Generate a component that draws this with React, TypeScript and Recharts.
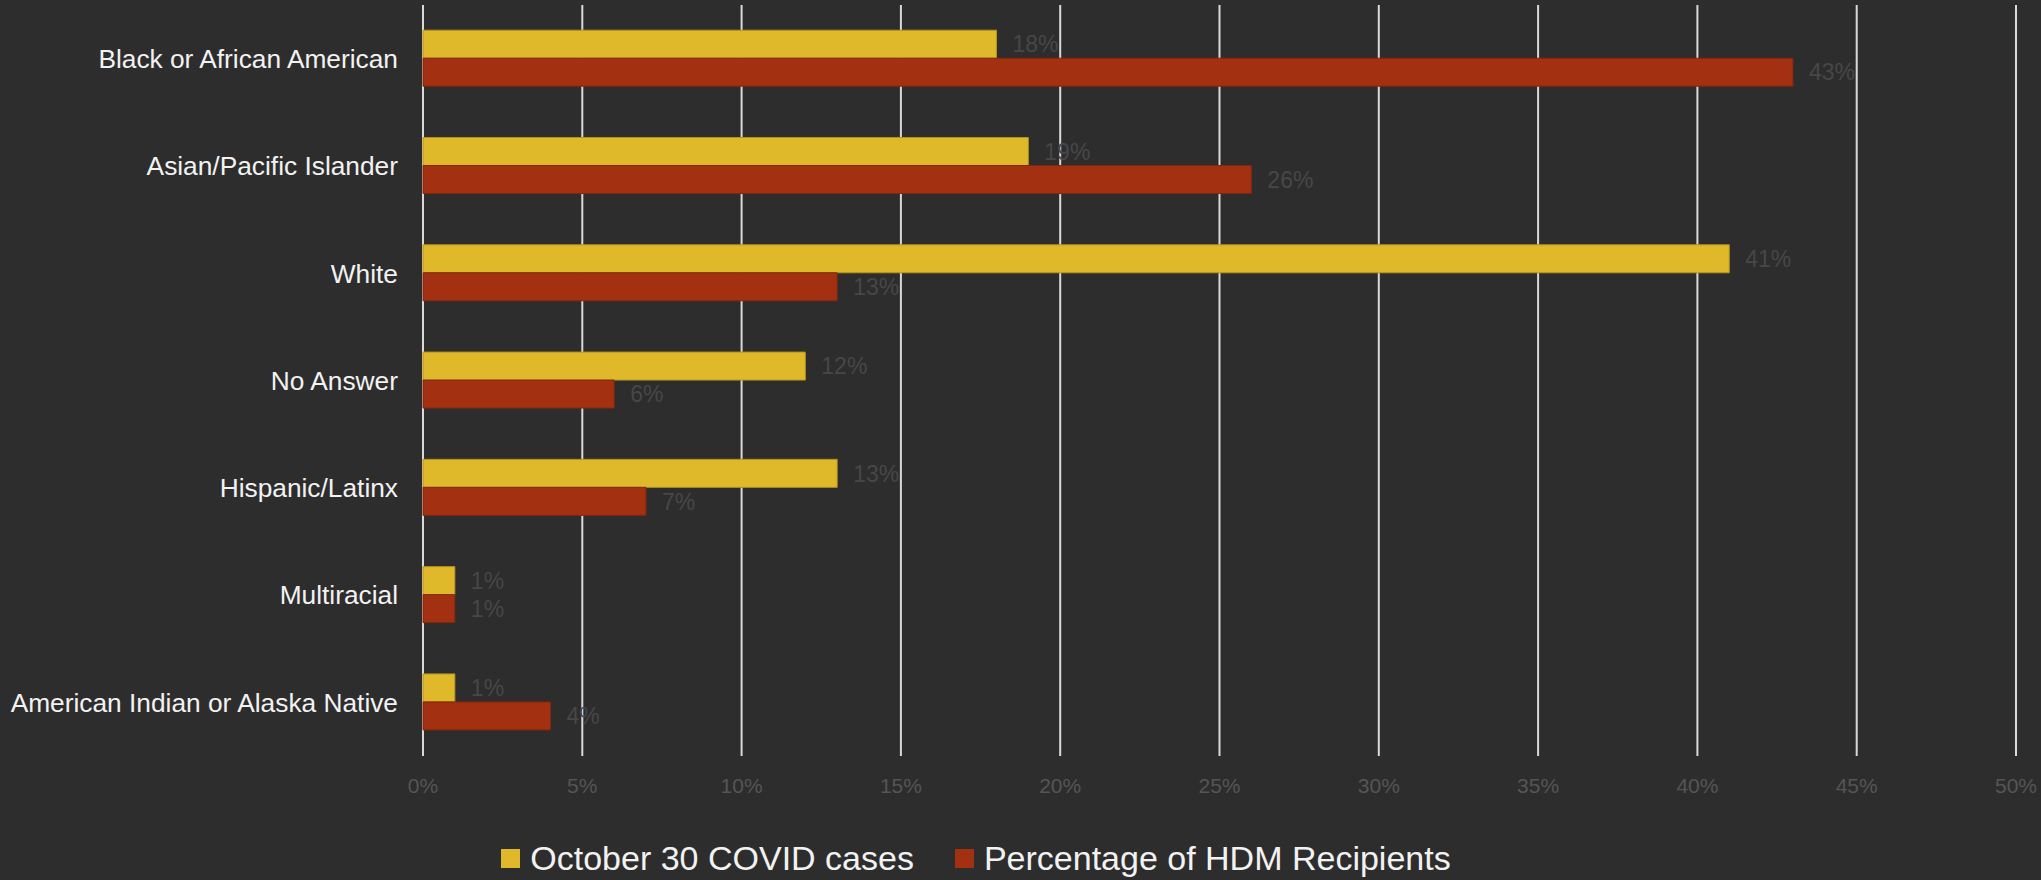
import { BarChart, Bar, XAxis, YAxis, CartesianGrid, Legend, LabelList } from 'recharts';

const categories = [
  'Black or African American',
  'Asian/Pacific Islander',
  'White',
  'No Answer',
  'Hispanic/Latinx',
  'Multiracial',
  'American Indian or Alaska Native',
];
const covidCases = [18, 19, 41, 12, 13, 1, 1];
const hdmRecipients = [43, 26, 13, 6, 7, 1, 4];
const xTicks = [0, 5, 10, 15, 20, 25, 30, 35, 40, 45, 50];

const seriesNames = ['October 30 COVID cases', 'Percentage of HDM Recipients'];
const YELLOW = '#E0B92A';
const RED = '#A33011';
const FONT = '"Liberation Sans", Arial, sans-serif';

const data = categories.map((name, i) => ({
  name,
  covid: covidCases[i],
  hdm: hdmRecipients[i],
}));

const CustomLegend = () => (
  <div
    style={{
      display: 'flex',
      justifyContent: 'center',
      alignItems: 'center',
      paddingRight: 64,
      height: 44,
      fontFamily: FONT,
      fontSize: 34,
      color: '#f2f2f2',
    }}
  >
    {[YELLOW, RED].map((c, i) => (
      <div key={i} style={{ display: 'flex', alignItems: 'center', marginRight: i === 0 ? 41 : 0 }}>
        <div style={{ width: 19, height: 19, backgroundColor: c, marginRight: 10 }} />
        <span>{seriesNames[i]}</span>
      </div>
    ))}
  </div>
);

const App = () => {
  return (
    <div style={{ width: 2041, height: 880, background: '#2D2D2D', position: 'absolute', left: 0, top: 0 }}>
      <style>{`body{margin:0;background:#2D2D2D;}`}</style>
      <BarChart
        width={2041}
        height={880}
        data={data}
        layout="vertical"
        margin={{ top: 5, right: 25, left: 0, bottom: 0 }}
        barCategoryGap="23.5%"
        barGap={0}
      >
        <CartesianGrid horizontal={false} stroke="#d9d9d9" strokeWidth={2} />
        <XAxis
          type="number"
          domain={[0, 50]}
          ticks={xTicks}
          tickFormatter={(v: number) => `${v}%`}
          axisLine={false}
          tickLine={false}
          tickSize={0}
          tickMargin={22}
          height={80}
          tick={{ fontSize: 21, fill: '#555555', fontFamily: FONT }}
        />
        <YAxis
          type="category"
          dataKey="name"
          width={423}
          axisLine={false}
          tickLine={false}
          tickSize={0}
          tickMargin={25}
          tick={{ fontSize: 26.3, fill: '#f2f2f2', fontFamily: FONT }}
        />
        <Legend verticalAlign="bottom" height={44} content={<CustomLegend />} />
        <Bar dataKey="covid" name={seriesNames[0]} fill={YELLOW} stroke="#B39320" strokeWidth={1} isAnimationActive={false}>
          <LabelList
            dataKey="covid"
            position="right"
            offset={16}
            formatter={(v: number) => `${v}%`}
            style={{ fill: '#474747', fontSize: 23, fontFamily: FONT }}
          />
        </Bar>
        <Bar dataKey="hdm" name={seriesNames[1]} fill={RED} stroke="#83270E" strokeWidth={1} isAnimationActive={false}>
          <LabelList
            dataKey="hdm"
            position="right"
            offset={16}
            formatter={(v: number) => `${v}%`}
            style={{ fill: '#474747', fontSize: 23, fontFamily: FONT }}
          />
        </Bar>
      </BarChart>
    </div>
  );
};

export default App;
